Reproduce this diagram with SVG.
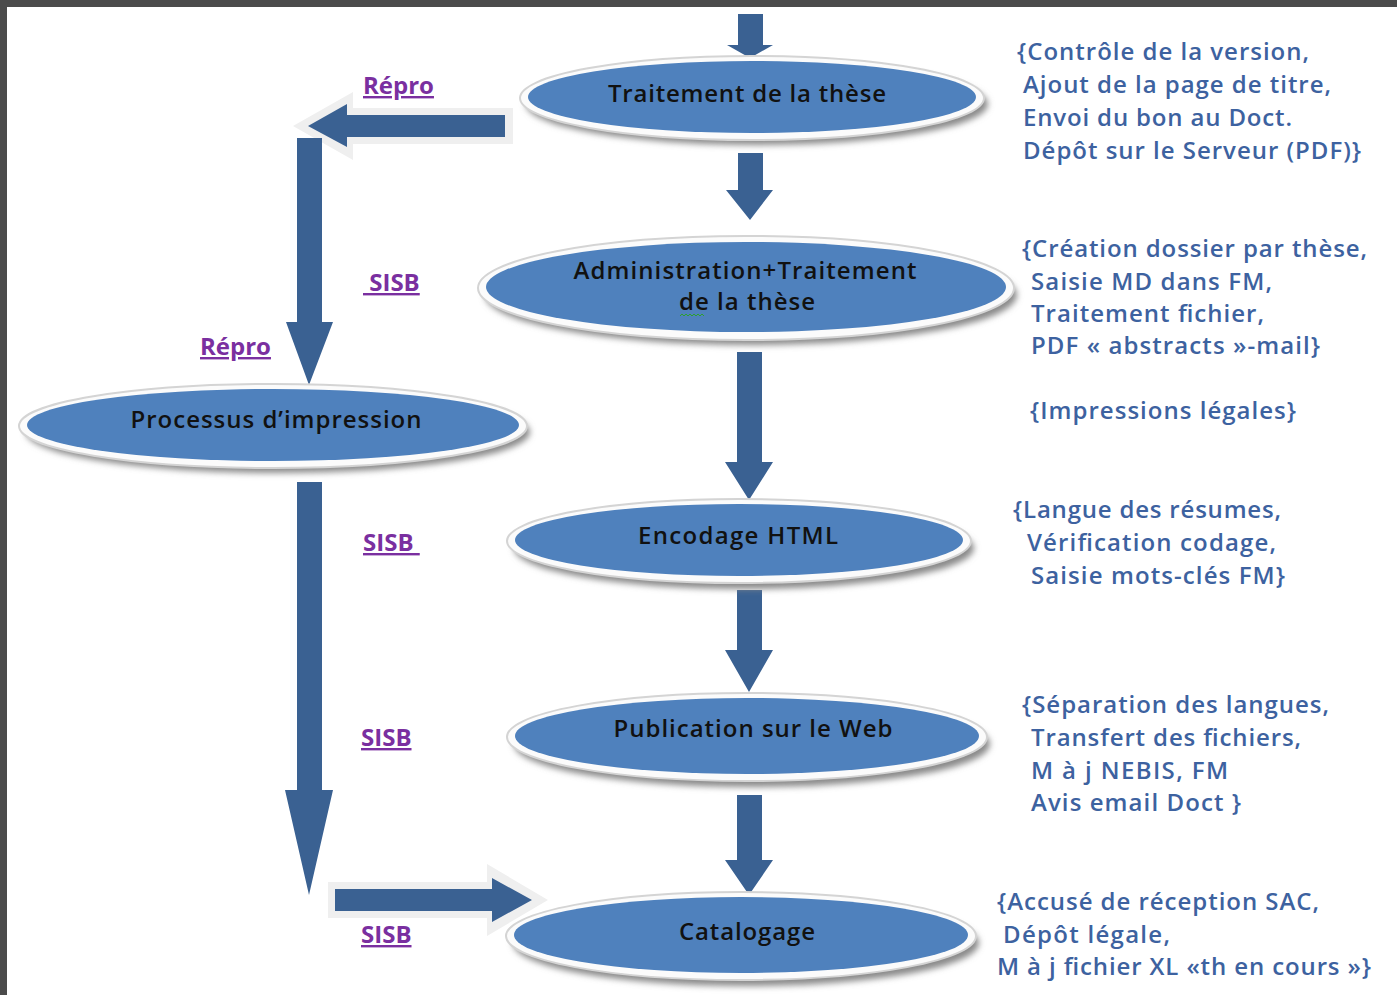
<svg xmlns="http://www.w3.org/2000/svg" width="1397" height="995" viewBox="0 0 1397 995">
<defs>
<style>
.frame{fill:#4b4b4b}
.arrow{fill:#3a6192}
.glow{fill:#efefef}
.rim{fill:#fbfbfb;stroke:#d4d4d4;stroke-width:2}
.shadow{fill:#8a8a8a;filter:url(#blur)}
.body{fill:#4f81bd}
.nt{font-family:"Open Sans",Lato,sans-serif;font-weight:600;font-size:24px;fill:#111;text-anchor:middle}
.lbl{font-family:"Open Sans",Lato,sans-serif;font-weight:700;font-size:24px;fill:#7a2fa0;text-decoration:underline}
.note{font-family:"Open Sans",Lato,sans-serif;font-weight:600;font-size:24px;fill:#3d62a0}
</style>
<filter id="blur" x="-10%" y="-30%" width="120%" height="160%"><feGaussianBlur stdDeviation="3"/></filter>
</defs>
<rect width="1397" height="995" fill="#ffffff"/>
<rect class="frame" x="0" y="0" width="1397" height="7"/>
<rect class="frame" x="0" y="0" width="7" height="995"/>

<g id="connectors">
<path class="glow" d="M513,108 L353,108 L353,92 L293,126 L353,160 L353,144 L513,144 Z"/>
<path class="glow" d="M328,882 L487,882 L487,864 L548,900 L487,936 L487,918 L328,918 Z"/>
<path class="arrow" d="M738,14 L763,14 L763,45 L773,45 L750,58 L727,45 L738,45 Z"/>
<path class="arrow" d="M738,153 L763,153 L763,190 L773,190 L750,220 L726,190 L738,190 Z"/>
<path class="arrow" d="M737,352 L762,352 L762,462 L773,462 L749,500 L725,462 L737,462 Z"/>
<path class="arrow" d="M737,590 L762,590 L762,650 L773,650 L749,692 L725,650 L737,650 Z"/>
<path class="arrow" d="M737,795 L762,795 L762,860 L773,860 L749,895 L725,860 L737,860 Z"/>
<path class="arrow" d="M505,115 L347,115 L347,104 L308,126 L347,147 L347,137 L505,137 Z"/>
<path class="arrow" d="M297,138 L322,138 L322,322 L333,322 L309,385 L286,322 L297,322 Z"/>
<path class="arrow" d="M297,482 L322,482 L322,790 L333,790 L309,895 L285,790 L297,790 Z"/>
<path class="arrow" d="M335,889 L492,889 L492,878 L532,900 L492,922 L492,911 L335,911 Z"/>
</g>

<g id="n-traitement">
<ellipse class="shadow" cx="757" cy="104" rx="231" ry="41"/>
<ellipse class="rim" cx="752" cy="98" rx="232" ry="42"/>
<ellipse class="body" cx="752" cy="97" rx="224" ry="36"/>
<text class="nt" x="747" y="102" textLength="278" lengthAdjust="spacing">Traitement de la thèse</text>
</g>

<g id="n-admin">
<ellipse class="shadow" cx="751" cy="295" rx="266" ry="50"/>
<ellipse class="rim" cx="746" cy="288" rx="268" ry="52"/>
<ellipse class="body" cx="746" cy="287" rx="260" ry="45"/>
<text class="nt" x="745" y="279" textLength="343" lengthAdjust="spacing">Administration+Traitement</text>
<text class="nt" x="747" y="310" textLength="136" lengthAdjust="spacing">de la thèse</text>
<path d="M680,316 l2,-2 l2,2 l2,-2 l2,2 l2,-2 l2,2 l2,-2 l2,2 l2,-2 l2,2 l2,-2 l2,2" fill="none" stroke="#2ea02e" stroke-width="1"/>
</g>

<g id="n-impression">
<ellipse class="shadow" cx="278" cy="432" rx="252" ry="41"/>
<ellipse class="rim" cx="273" cy="426" rx="254" ry="42"/>
<ellipse class="body" cx="273" cy="425" rx="246" ry="36"/>
<text class="nt" x="276" y="428" textLength="291" lengthAdjust="spacing">Processus d’impression</text>
</g>

<g id="n-encodage">
<ellipse class="shadow" cx="744" cy="548" rx="230" ry="41"/>
<ellipse class="rim" cx="739" cy="541" rx="232" ry="42"/>
<ellipse class="body" cx="739" cy="540" rx="224" ry="36"/>
<text class="nt" x="738" y="544" textLength="200" lengthAdjust="spacing">Encodage HTML</text>
</g>

<g id="n-publication">
<ellipse class="shadow" cx="752" cy="744" rx="238" ry="43"/>
<ellipse class="rim" cx="747" cy="737" rx="240" ry="44"/>
<ellipse class="body" cx="747" cy="736" rx="232" ry="38"/>
<text class="nt" x="753" y="737" textLength="279" lengthAdjust="spacing">Publication sur le Web</text>
</g>

<g id="n-catalogage">
<ellipse class="shadow" cx="746" cy="943" rx="233" ry="43"/>
<ellipse class="rim" cx="741" cy="936" rx="235" ry="44"/>
<ellipse class="body" cx="741" cy="935" rx="227" ry="38"/>
<text class="nt" x="747" y="940" textLength="136" lengthAdjust="spacing">Catalogage</text>
</g>

<g id="labels">
<text class="lbl" x="363" y="94">Répro</text>
<text class="lbl" x="363" y="291" xml:space="preserve"> SISB</text>
<text class="lbl" x="200" y="355">Répro</text>
<text class="lbl" x="363" y="551" xml:space="preserve">SISB </text>
<text class="lbl" x="361" y="746">SISB</text>
<text class="lbl" x="361" y="943">SISB</text>
</g>

<g id="notes">
<text class="note" x="1017" y="60" textLength="292" lengthAdjust="spacing">{Contrôle de la version,</text>
<text class="note" x="1023" y="93" textLength="308" lengthAdjust="spacing">Ajout de la page de titre,</text>
<text class="note" x="1023" y="126" textLength="269" lengthAdjust="spacing">Envoi du bon au Doct.</text>
<text class="note" x="1023" y="159" textLength="338" lengthAdjust="spacing">Dépôt sur le Serveur (PDF)}</text>

<text class="note" x="1022" y="257" textLength="345" lengthAdjust="spacing">{Création dossier par thèse,</text>
<text class="note" x="1031" y="290" textLength="241" lengthAdjust="spacing">Saisie MD dans FM,</text>
<text class="note" x="1031" y="322" textLength="233" lengthAdjust="spacing">Traitement fichier,</text>
<text class="note" x="1031" y="354" textLength="289" lengthAdjust="spacing">PDF « abstracts »-mail}</text>

<text class="note" x="1030" y="419" textLength="266" lengthAdjust="spacing">{Impressions légales}</text>

<text class="note" x="1013" y="518" textLength="268" lengthAdjust="spacing">{Langue des résumes,</text>
<text class="note" x="1027" y="551" textLength="249" lengthAdjust="spacing">Vérification codage,</text>
<text class="note" x="1031" y="584" textLength="254" lengthAdjust="spacing">Saisie mots-clés FM}</text>

<text class="note" x="1022" y="713" textLength="307" lengthAdjust="spacing">{Séparation des langues,</text>
<text class="note" x="1031" y="746" textLength="270" lengthAdjust="spacing">Transfert des fichiers,</text>
<text class="note" x="1031" y="779" textLength="197" lengthAdjust="spacing">M à j NEBIS, FM</text>
<text class="note" x="1031" y="811" textLength="210" lengthAdjust="spacing">Avis email Doct }</text>

<text class="note" x="997" y="910" textLength="322" lengthAdjust="spacing">{Accusé de réception SAC,</text>
<text class="note" x="1003" y="943" textLength="167" lengthAdjust="spacing">Dépôt légale,</text>
<text class="note" x="997" y="975" textLength="374" lengthAdjust="spacing">M à j fichier XL «th en cours »}</text>
</g>
</svg>
